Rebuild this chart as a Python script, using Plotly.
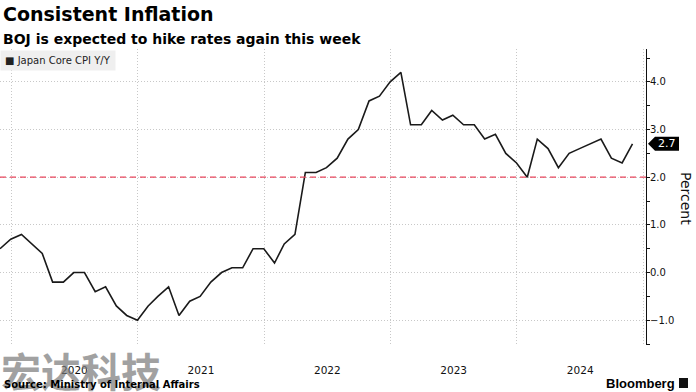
import pandas as pd
import plotly.graph_objects as go

# ---- data (monthly, Japan core CPI y/y %, Nov 2019 - Nov 2024) ----
series_name = "Japan Core CPI Y/Y"
start_month = "2019-11-30"
cpi_values = [
    0.5, 0.7,                                                   # 2019 Nov-Dec
    0.8, 0.6, 0.4, -0.2, -0.2, 0.0, 0.0, -0.4, -0.3, -0.7, -0.9, -1.0,  # 2020
    -0.7, -0.5, -0.3, -0.9, -0.6, -0.5, -0.2, 0.0, 0.1, 0.1, 0.5, 0.5,  # 2021
    0.2, 0.6, 0.8, 2.1, 2.1, 2.2, 2.4, 2.8, 3.0, 3.6, 3.7, 4.0,         # 2022
    4.2, 3.1, 3.1, 3.4, 3.2, 3.3, 3.1, 3.1, 2.8, 2.9, 2.5, 2.3,         # 2023
    2.0, 2.8, 2.6, 2.2, 2.5, 2.6, 2.7, 2.8, 2.4, 2.3, 2.7,              # 2024
]
boj_target = 2.0
y_ticks = [-1.0, 0.0, 1.0, 2.0, 3.0, 4.0]
x_range = ["2019-11-30", "2025-01-08"]
y_range = [-1.52, 4.69]

dates = pd.date_range(start_month, periods=len(cpi_values), freq="ME")

FONT = "DejaVu Sans"

fig = go.Figure()
fig.add_trace(go.Scatter(
    x=dates, y=cpi_values, mode="lines", name=series_name,
    line=dict(color="#1a1a1a", width=1.6),
))

fig.update_layout(
    width=696, height=392,
    margin=dict(l=0, r=50, t=49, b=47),
    paper_bgcolor="white", plot_bgcolor="white",
    showlegend=False,
    font=dict(family=FONT, color="#111111"),
    xaxis=dict(
        type="date", range=x_range,
        tick0="2020-01-01", dtick="M12", ticklabelmode="period",
        tickformat="%Y", ticks="", ticklabelstandoff=17,
        showgrid=True, gridcolor="#c8c8c8", griddash="1px,2px", gridwidth=1,
        showline=False, zeroline=False,
        tickfont=dict(family=FONT, size=10.5, color="#111111"),
    ),
    yaxis=dict(
        side="right", range=y_range,
        tickvals=y_ticks, tickformat=".1f",
        ticks="outside", ticklen=3, tickcolor="#111111", ticklabelstandoff=-2,
        minor=dict(ticks="outside", ticklen=3, tickcolor="#111111", dtick=0.5, tick0=0, showgrid=False),
        showline=True, linecolor="#111111", linewidth=1,
        showgrid=True, gridcolor="#c8c8c8", griddash="1px,2px", gridwidth=1,
        zeroline=False,
        tickfont=dict(family=FONT, size=10, color="#111111"),
    ),
)

# BOJ 2% target line
fig.add_shape(type="line", xref="paper", x0=0, x1=1, yref="y", y0=boj_target, y1=boj_target,
              line=dict(color="#e8475d", width=1.3, dash="6px,4px"), layer="above")

# last value tag
last_val = cpi_values[-1]
h = 0.147
px = lambda p: p / 646.0
fig.add_shape(
    type="path", xref="paper", yref="y",
    path=(f"M {px(648)} {last_val} L {px(655)} {last_val + h} L {px(679)} {last_val + h} "
          f"L {px(679)} {last_val - h} L {px(655)} {last_val - h} Z"),
    fillcolor="black", line=dict(width=0), layer="above",
)
fig.add_annotation(xref="paper", yref="y", x=px(667), y=last_val, text=f"{last_val:.1f}",
                   showarrow=False, font=dict(family=FONT, size=11, color="white"),
                   xanchor="center", yanchor="middle")

def py(p):
    return (345 - p) / 296.0

# titles
fig.add_annotation(xref="paper", yref="paper", x=0, y=py(14), xshift=1, text="<b>Consistent Inflation</b>",
                   showarrow=False, xanchor="left", yanchor="middle",
                   font=dict(family=FONT, size=19, color="#000000"))
fig.add_annotation(xref="paper", yref="paper", x=0, y=py(39), xshift=1,
                   text="<b>BOJ is expected to hike rates again this week</b>",
                   showarrow=False, xanchor="left", yanchor="middle",
                   font=dict(family=FONT, size=14, color="#000000"))

# legend box
fig.add_annotation(xref="paper", yref="paper", x=0, y=py(60.5), text="■ " + series_name,
                   showarrow=False, xanchor="left", yanchor="middle", bgcolor="#efefef",
                   borderpad=4, font=dict(family=FONT, size=10, color="#222222"))

# axis title
fig.add_annotation(xref="paper", yref="paper", x=px(686), y=py(198), text="Percent",
                   showarrow=False, textangle=90, xanchor="center", yanchor="middle",
                   font=dict(family=FONT, size=14, color="#111111"))

# watermark
fig.add_annotation(xref="paper", yref="paper", x=px(81), y=py(370), text="<b>宏达科技</b>",
                   showarrow=False, xanchor="center", yanchor="middle", opacity=0.7,
                   font=dict(family="Noto Sans CJK SC", size=40, color="#7a7a7a"))

# footer
fig.add_annotation(xref="paper", yref="paper", x=0, y=py(384), xshift=2,
                   text="<b>Source: Ministry of Internal Affairs</b>",
                   showarrow=False, xanchor="left", yanchor="middle",
                   font=dict(family=FONT, size=10, color="#000000"))
fig.add_annotation(xref="paper", yref="paper", x=px(677), y=py(383), text="<b>Bloomberg</b>",
                   showarrow=False, xanchor="right", yanchor="middle",
                   font=dict(family="Liberation Sans", size=13, color="#000000"))
fig.add_shape(type="rect", xref="paper", yref="paper", x0=px(679), x1=px(688), y0=py(388), y1=py(378),
              fillcolor="#111111", line=dict(width=0))

fig.write_html("out.html", config={"displayModeBar": False},
               post_script="document.body.style.margin='0';document.body.style.overflow='hidden';")
